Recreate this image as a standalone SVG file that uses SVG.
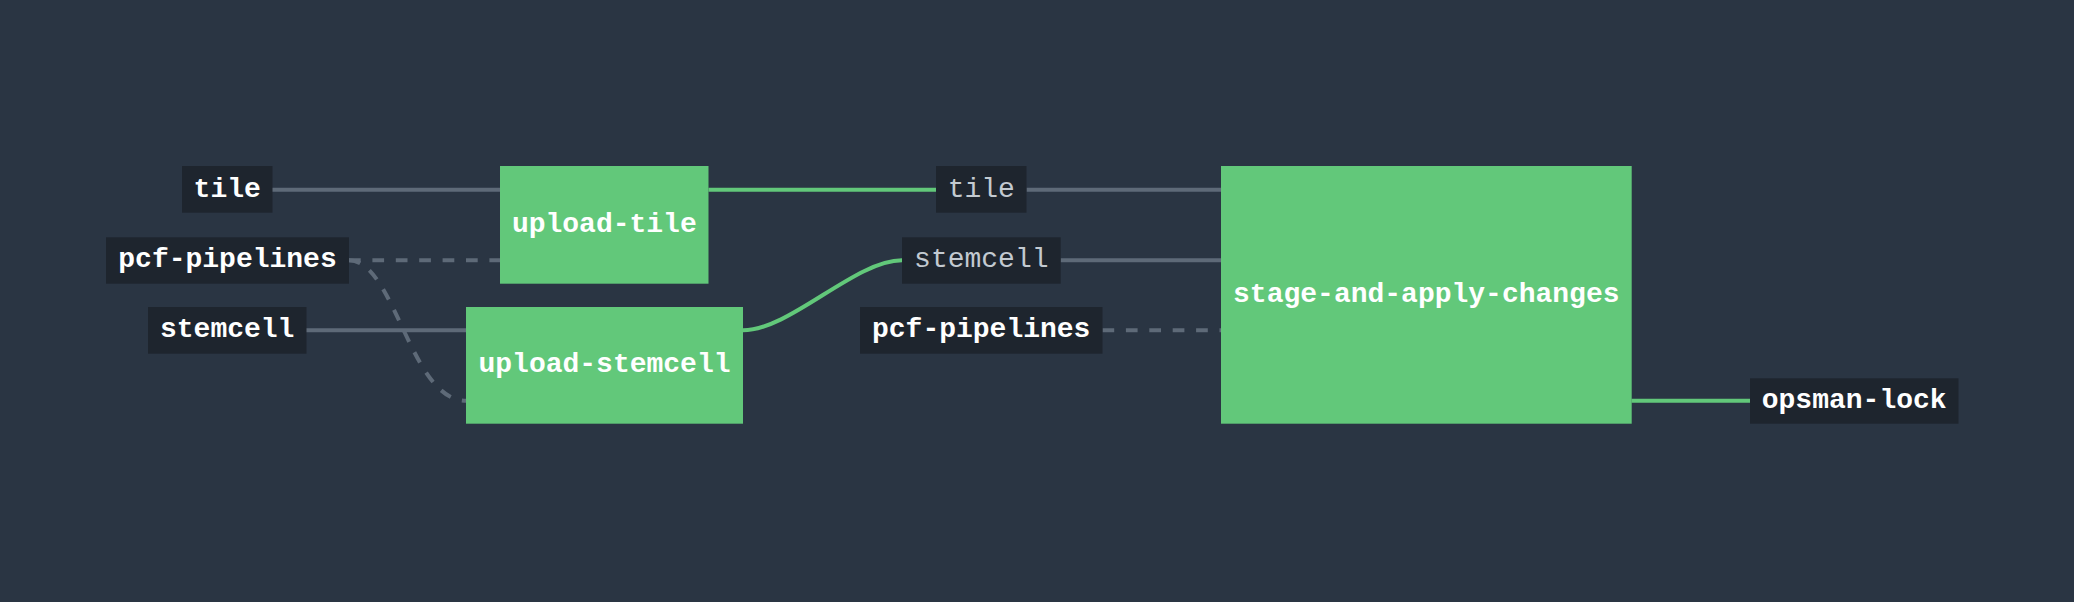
<svg xmlns="http://www.w3.org/2000/svg" width="2074" height="602" viewBox="0 0 2074 602">
  <style>
    .bg { fill: #2a3543; }
    .res rect { fill: #1e252e; }
    .job rect { fill: #62c87a; }
    text { font-family: "Liberation Mono", "Courier New", monospace; font-size: 28px; text-anchor: middle; }
    .in text, .job text { fill: #ffffff; font-weight: bold; }
    .out text { fill: #c3cad1; font-weight: normal; }
    .edge { fill: none; stroke-width: 4; }
    .grey { stroke: #5e6a78; }
    .green { stroke: #62c87a; }
    .dash { stroke-dasharray: 11.7 11.7; }
  </style>
  <rect class="bg" x="0" y="0" width="2074" height="602"/>

  <g id="connectors">
    <path class="edge grey" d="M 272 189.7 L 500 189.7"/>
    <path class="edge grey dash" d="M 349 260.3 L 500 260.3"/>
    <path class="edge grey dash" d="M 349 260.3 C 395 260.3, 410 400.7, 466 400.7"/>
    <path class="edge grey" d="M 306 330.3 L 466 330.3"/>
    <path class="edge green" d="M 708.5 189.7 L 936 189.7"/>
    <path class="edge green" d="M 743 330.3 C 790 330.3, 855 260.3, 902 260.3"/>
    <path class="edge grey" d="M 1026.5 189.7 L 1221 189.7"/>
    <path class="edge grey" d="M 1060.5 260.3 L 1221 260.3"/>
    <path class="edge grey dash" d="M 1102.5 330.3 L 1221 330.3"/>
    <path class="edge green" d="M 1631.5 400.7 L 1750 400.7"/>
  </g>

  <g id="in-tile" class="res in">
    <rect x="182" y="166" width="90.5" height="46.7"/>
    <text x="227.2" y="196.7">tile</text>
  </g>
  <g id="in-pcf-pipelines" class="res in">
    <rect x="106" y="237.3" width="243" height="46.4"/>
    <text x="227.5" y="267.3">pcf-pipelines</text>
  </g>
  <g id="in-stemcell" class="res in">
    <rect x="148" y="307" width="158.5" height="46.7"/>
    <text x="227.2" y="337.3">stemcell</text>
  </g>

  <g id="job-upload-tile" class="job">
    <rect x="500" y="166" width="208.5" height="117.7"/>
    <text x="604.3" y="231.8">upload-tile</text>
  </g>
  <g id="job-upload-stemcell" class="job">
    <rect x="466" y="307" width="277" height="116.7"/>
    <text x="604.5" y="372.3">upload-stemcell</text>
  </g>

  <g id="out-tile" class="res out">
    <rect x="936" y="166" width="90.5" height="46.7"/>
    <text x="981.3" y="196.7">tile</text>
  </g>
  <g id="out-stemcell" class="res out">
    <rect x="902" y="237.3" width="158.7" height="46.4"/>
    <text x="981.3" y="267.3">stemcell</text>
  </g>
  <g id="in-pcf-pipelines-2" class="res in">
    <rect x="860" y="307" width="242.5" height="46.7"/>
    <text x="981.2" y="337.3">pcf-pipelines</text>
  </g>

  <g id="job-stage-and-apply-changes" class="job">
    <rect x="1221" y="166" width="410.7" height="257.7"/>
    <text x="1426.3" y="301.8">stage-and-apply-changes</text>
  </g>

  <g id="out-opsman-lock" class="res in">
    <rect x="1750" y="378.3" width="208.5" height="45.4"/>
    <text x="1854.2" y="407.7">opsman-lock</text>
  </g>
</svg>
